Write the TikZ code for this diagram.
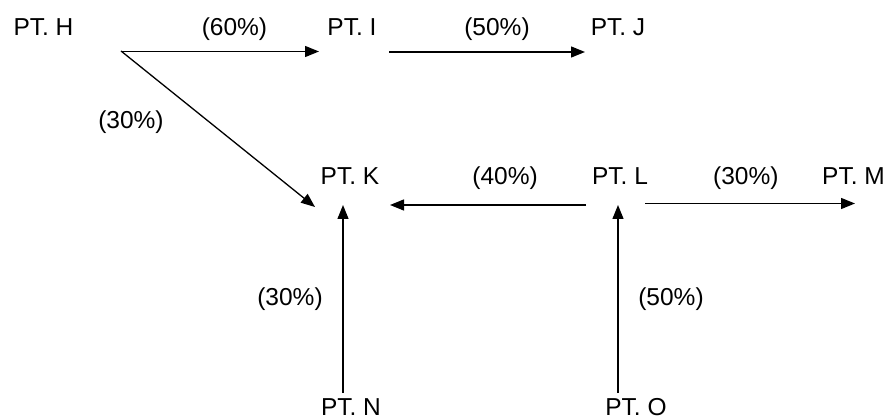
\documentclass[tikz,border=0pt]{standalone}
\usepackage{fontspec}
\setmainfont{Liberation Sans}
\usetikzlibrary{arrows.meta}
\newcommand{\fsz}[0] {\fontsize{24.5}{28}\selectfont}
\tikzset{
    pt/.style={anchor=base, inner sep=0pt, font=\fsz},
    pct/.style={anchor=base, inner sep=0pt, font=\fsz},
    flow/.style={line width=1.3pt, -{Triangle[length=14pt,width=11pt]}}
}

\begin{document}
\begin{tikzpicture}[x=1pt,y=-1pt]
        \useasboundingbox (0,0) rectangle (888,419);

        \node[pt] (h) at (43.5,36)     {PT. H};
        \node[pt] (i) at (352,36)     {PT. I};
        \node[pt] (j) at (618,36)     {PT. J};
        \node[pt] (k) at (350,185)     {PT. K};
        \node[pt] (l) at (620,185)     {PT. L};
        \node[pt] (m) at (853.5,185)     {PT. M};
        \node[pt] (n) at (351,415.5)     {PT. N};
        \node[pt] (o) at (636,415.5)     {PT. O};

        %edges with text
        \path[flow] ([shift={(77.5,15.5)}]h.base) edge node[pct,pos=0.573,yshift=15.5pt]{(60\%)} ([shift={(-33,15.5)}]i.base);
        \path[flow] ([shift={(37,16)}]i.base) edge node[pct,pos=0.551,yshift=16pt]{(50\%)} ([shift={(-33,16)}]j.base);
        \path[flow] ([shift={(77.5,15)}]h.base) edge node[pct,pos=0.44,xshift=-75.4pt,yshift=-8.4pt]{(30\%)} ([shift={(-35,22)}]k.base);
        \path[flow] ([shift={(-34,20)}]l.base) edge node[pct,pos=0.413,yshift=20pt]{(40\%)} ([shift={(40,20)}]k.base);
        \path[flow] ([shift={(25,18.5)}]l.base) edge node[pct,pos=0.48,yshift=18.5pt]{(30\%)} ([shift={(1.5,18.5)}]m.base);
        \path[flow] ([shift={(-8,-22.5)}]n.base) edge node[pct,pos=0.468,xshift=-53pt]{(30\%)} ([shift={(-7,20)}]k.base);
        \path[flow] ([shift={(-18,-22.5)}]o.base) edge node[pct,pos=0.468,xshift=53pt]{(50\%)} ([shift={(-2,20)}]l.base);
\end{tikzpicture}
\end{document}
